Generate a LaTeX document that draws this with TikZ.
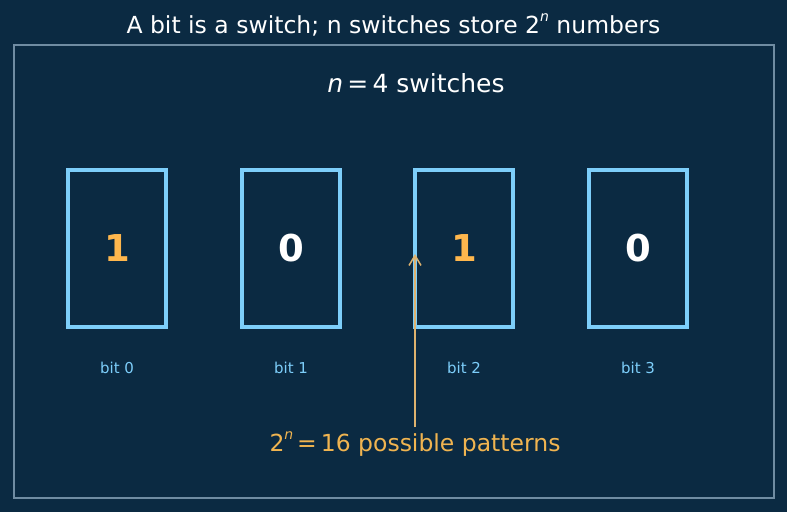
\documentclass[tikz,border=0pt]{standalone}
\usepackage{fontspec}
\setmainfont{DejaVu Sans}
\usetikzlibrary{arrows.meta}
\definecolor{bg}{RGB}{11,42,66}
\definecolor{framec}{RGB}{112,140,162}
\definecolor{boxc}{RGB}{125,206,250}
\definecolor{onec}{RGB}{255,183,77}
\definecolor{notec}{RGB}{240,180,80}
\definecolor{arrc}{RGB}{222,178,110}
\newcommand\supn[1]{\raisebox{0.5em}{\fontsize{#1}{#1}\selectfont\itshape n}}
\tikzset{
  bitbox/.style={draw=boxc, line width=3.6pt, minimum width=98pt, minimum height=157pt, inner sep=0pt,
    font=\fontsize{37}{42}\selectfont\bfseries},
  bitlabel/.style={text=boxc, font=\fontsize{15}{17}\selectfont},
  txt/.style={text=white, inner sep=0pt},
  arrowline/.style={draw=arrc, line width=1.5pt, -{Straight Barb[length=10pt,width=12pt,line width=1.5pt]}}
}
\begin{document}
\begin{tikzpicture}[x=1pt,y=-1pt]
\fill[bg] (0,0) rectangle (787,512);
\useasboundingbox (0,0) rectangle (787,512);
\draw[framec, line width=1.5pt] (14,45) rectangle (774,498);
\node[txt] (title) at (393.5,25) {\fontsize{23.5}{28}\selectfont A bit is a switch; n switches store 2\supn{14} numbers};
\node[txt] (sub) at (416,83) {\fontsize{25}{29}\selectfont{\itshape n}\,=\,4 switches};
\node[bitbox, text=onec] (b0) at (117,248.5) {1};
\node[bitbox, text=white] (b1) at (291,248.5) {0};
\node[bitbox, text=onec] (b2) at (464,248.5) {1};
\node[bitbox, text=white] (b3) at (638,248.5) {0};
\node[bitlabel] (l0) at (117,368) {bit 0};
\node[bitlabel] (l1) at (291,368) {bit 1};
\node[bitlabel] (l2) at (464,368) {bit 2};
\node[bitlabel] (l3) at (638,368) {bit 3};
\node[txt, text=notec] (note) at (415,444) {\fontsize{23.5}{28}\selectfont 2\supn{14}\,=\,16 possible patterns};
\coordinate (as) at (415,427);
\coordinate (ae) at (415,254);
\draw[arrowline] (as) -- (ae);
\end{tikzpicture}
\end{document}
